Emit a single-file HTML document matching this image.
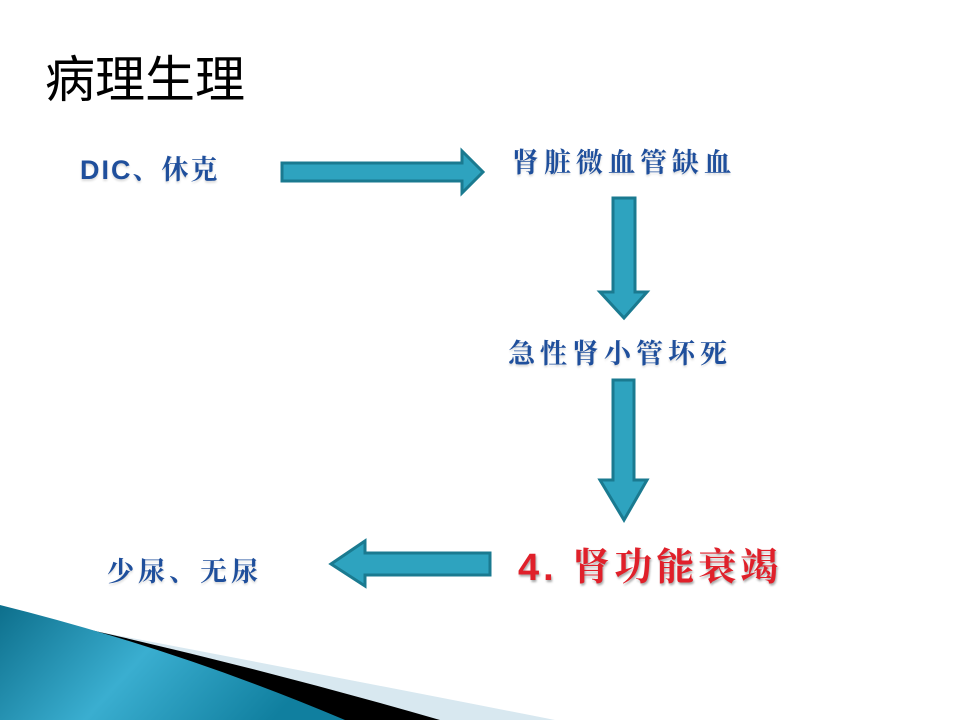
<!DOCTYPE html>
<html><head><meta charset="utf-8"><style>
body{margin:0;width:960px;height:720px;background:#fff;position:relative;overflow:hidden;font-family:"Liberation Sans","Noto Sans CJK SC",sans-serif}
.t{position:absolute;white-space:nowrap}
.b{color:#1f4f9c;font-weight:bold;font-size:27px;font-family:"Liberation Sans","Noto Serif CJK SC",serif;text-shadow:0 2px 2px rgba(0,0,0,0.15);letter-spacing:3px}
</style></head><body>
<svg width="960" height="720" style="position:absolute;left:0;top:0">
<defs><linearGradient id="g" x1="0" y1="0" x2="1" y2="0.3"><stop offset="0" stop-color="#0d6f8c"/><stop offset="0.5" stop-color="#3aaed0"/><stop offset="1" stop-color="#107f9f"/></linearGradient></defs>
<path d="M100,632 Q300,670 555,720 L400,720 Z" fill="#d8e8f0"/>
<path d="M55,622 Q250,665 440,720 L330,720 Z" fill="#000"/>
<path d="M0,605 Q180,650 345,720 L0,720 Z" fill="url(#g)"/>
<g fill="#2ea3bf" stroke="#1a7a90" stroke-width="3">
<path d="M282,163 L462,163 L462,151 L483,172 L462,193 L462,181 L282,181 Z"/>
<path d="M613,198 L635,198 L635,292 L647,292 L624,318 L600,292 L613,292 Z"/>
<path d="M613,380 L634,380 L634,480 L647,480 L624,520 L600,480 L613,480 Z"/>
<path d="M490,553 L365,553 L365,541 L331,564 L365,586 L365,575 L490,575 Z"/>
</g>
</svg>
<div class="t" style="left:45px;top:40px;font-size:50px;color:#000">病理生理</div>
<div class="t b" style="left:80px;top:148px;letter-spacing:2px">DIC、休克</div>
<div class="t b" style="left:512px;top:141px;letter-spacing:5px">肾脏微血管缺血</div>
<div class="t b" style="left:508px;top:332px;letter-spacing:5px">急性肾小管坏死</div>
<div class="t b" style="left:107px;top:550px;letter-spacing:4px">少尿、无尿</div>
<div class="t" style="left:518px;top:536px;font-size:38px;font-weight:bold;font-family:'Liberation Sans','Noto Serif CJK SC',serif;color:#e0202a;letter-spacing:4px;text-shadow:1px 2px 2px rgba(0,0,0,0.35)">4. 肾功能衰竭</div>
</body></html>
